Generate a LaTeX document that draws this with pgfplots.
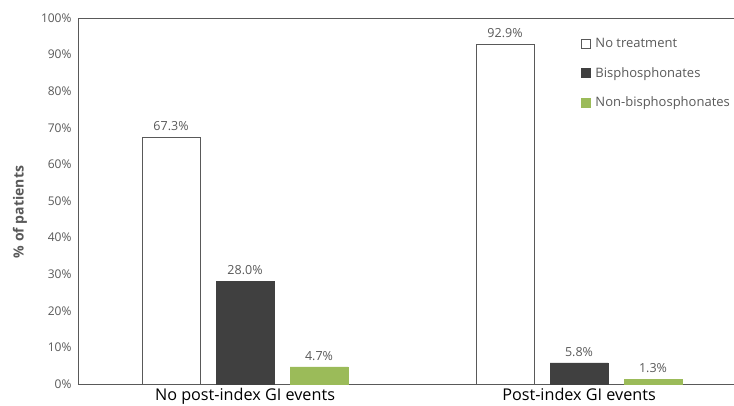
\documentclass[border=0pt]{standalone}
\usepackage{pgfplots}
\pgfplotsset{compat=1.18}
\usepackage{fontspec}
\setmainfont{Open Sans}
\definecolor{txt}{HTML}{595959}
\definecolor{dark}{HTML}{404040}
\definecolor{grn}{HTML}{9BBB59}
\definecolor{axc}{HTML}{595959}
\begin{document}
\begin{tikzpicture}
\begin{axis}[
  at={(0,0)}, anchor=south west,
  scale only axis, width=656pt, height=366pt,
  xmin=-0.5, xmax=1.464, ymin=0, ymax=100,
  axis x line=box, axis y line=left,
  axis line style={axc, line width=0.9pt},
  y axis line style={-},
  xtick={0,1}, xticklabels={No post-index GI events, Post-index GI events},
  ytick={0,10,...,100},
  yticklabels={0\%,10\%,20\%,30\%,40\%,50\%,60\%,70\%,80\%,90\%,100\%},
  major tick length=0pt,
  x tick label style={font=\fontsize{16.2}{18}\selectfont, text=black, yshift=-0.5pt},
  y tick label style={font=\fontsize{12}{14}\selectfont, text=txt, xshift=-3pt},
  ylabel={\textbf{\% of patients}},
  every axis y label/.style={at={(rel axis cs:0,0.47)}, xshift=-58pt, rotate=90, anchor=center,
    font=\fontsize{14}{16}\selectfont, text=txt},
  ybar, bar width=58/334*656/1.964pt,
  nodes near coords={\pgfmathprintnumber[fixed,fixed zerofill,precision=1,assume math mode=true]{\pgfplotspointmeta}\%},
  nodes near coords style={font=\fontsize{12.5}{14}\selectfont, text=txt, yshift=3pt},
  legend style={draw=none, fill=none, at={(0.762,0.955)}, anchor=north west,
    font=\fontsize{13}{15}\selectfont, text=txt, row sep=14pt,
    legend cell align=left, nodes={inner xsep=4.5pt}},
  legend image code/.code={\draw[#1] (0pt,-4.5pt) rectangle (9pt,4.5pt);},
]
\addplot[bar shift=-74/334*656/1.964pt, draw=axc, fill=white, line width=0.9pt] coordinates {(0,67.3) (1,92.9)};
\addplot[bar shift=0pt, draw=dark, fill=dark] coordinates {(0,28.0) (1,5.8)};
\addplot[bar shift=74/334*656/1.964pt, draw=grn, fill=grn] coordinates {(0,4.7) (1,1.3)};
\legend{No treatment, Bisphosphonates, Non-bisphosphonates}
\end{axis}
\pgfresetboundingbox
\path[use as bounding box] (-78pt,-21pt) rectangle (656pt,384pt);
\end{tikzpicture}
\end{document}
